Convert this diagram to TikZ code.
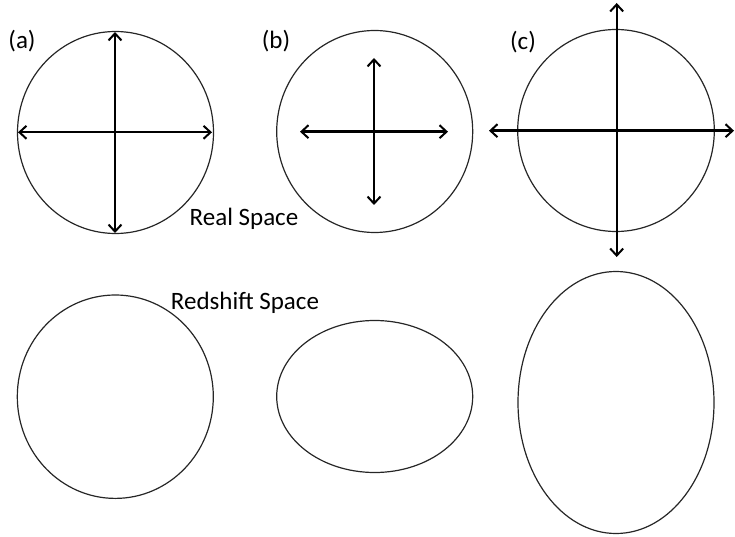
\documentclass[tikz,border=0pt]{standalone}
\usepackage{fontspec}
\setmainfont{Carlito}
\usetikzlibrary{arrows.meta}
\tikzset{
  outline/.style={draw=black!85, line width=1.2pt},
  axis/.style={line width=2.4pt, {Straight Barb[length=7pt,width=13pt,line width=2pt]}-{Straight Barb[length=7pt,width=13pt,line width=2pt]}},
  lbl/.style={inner sep=0pt, font=\fontsize{25}{28}\selectfont},
}
\begin{document}
\begin{tikzpicture}[x=1pt,y=-1pt]
\useasboundingbox (0,0) rectangle (735,537);
% top row (real space)
\draw[outline] (115.5,132.5) ellipse [x radius=98, y radius=101];
\draw[outline] (374.7,131.5) ellipse [x radius=98, y radius=101];
\draw[outline] (616,130.5) ellipse [x radius=98.3, y radius=101];
% bottom row (redshift space)
\draw[outline] (115.3,396.7) ellipse [x radius=98, y radius=101.7];
\draw[outline] (374.7,396.5) ellipse [x radius=98, y radius=76];
\draw[outline] (616,402.5) ellipse [x radius=98, y radius=131];
% arrow end points
\coordinate (aL) at (18,132.3);  \coordinate (aR) at (212,132.3);
\coordinate (aT) at (115,32);    \coordinate (aB) at (115,233);
\coordinate (bL) at (300,131.7); \coordinate (bR) at (448,131.7);
\coordinate (bT) at (374,58);    \coordinate (bB) at (374,205);
\coordinate (cL) at (489,130.7); \coordinate (cR) at (734,130.7);
\coordinate (cT) at (616.7,3);   \coordinate (cB) at (616.7,257);
\draw[axis] (aL) -- (aR);
\draw[axis] (aT) -- (aB);
\draw[axis] (bL) -- (bR);
\draw[axis] (bT) -- (bB);
\draw[axis] (cL) -- (cR);
\draw[axis] (cT) -- (cB);
% labels
\node[lbl] (la) at (22,41) {(a)};
\node[lbl] (lb) at (276,41) {(b)};
\node[lbl] (lc) at (523,42) {(c)};
\node[lbl] (real) at (244,219) {Real Space};
\node[lbl] (red) at (245,303) {Redshift Space};
\end{tikzpicture}
\end{document}
